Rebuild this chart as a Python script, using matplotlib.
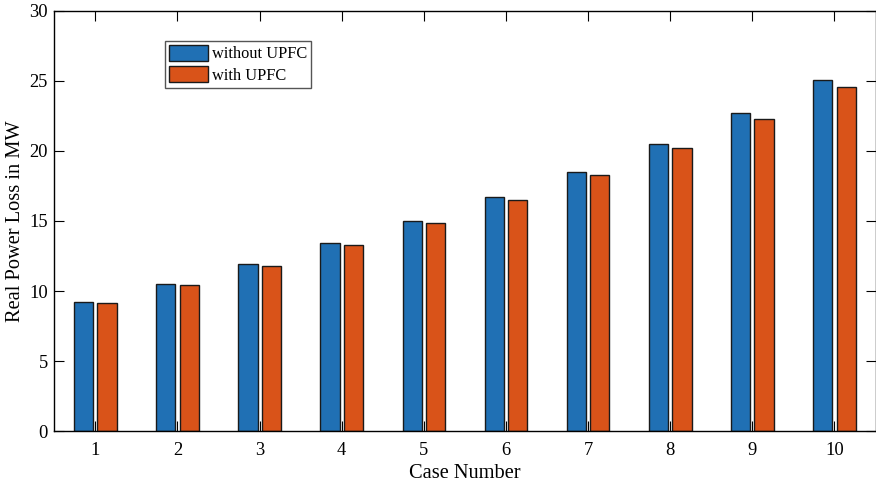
import matplotlib.pyplot as plt
import numpy as np

plt.rcParams['font.family'] = ['Liberation Serif', 'DejaVu Serif']

cases = [1, 2, 3, 4, 5, 6, 7, 8, 9, 10]
without_upfc = [9.24, 10.52, 11.90, 13.40, 14.97, 16.68, 18.50, 20.48, 22.66, 25.04]
with_upfc = [9.17, 10.45, 11.80, 13.28, 14.85, 16.49, 18.29, 20.17, 22.28, 24.52]

x = np.array(cases)
w = 0.235
off = 0.142

fig = plt.figure(figsize=(8.76, 4.87), dpi=100)
fig.set_facecolor('white')
ax = fig.add_axes([0.062, 0.1144, 0.9375, 0.864])

ax.bar(x - off, without_upfc, w, color='#2070b4', edgecolor='#1a1a1a', linewidth=1, label='without UPFC')
ax.bar(x + off, with_upfc, w, color='#d95319', edgecolor='#1a1a1a', linewidth=1, label='with UPFC')

ax.set_xlim(0.5, 10.5)
ax.set_ylim(0, 30)
ax.set_xticks(cases)
ax.set_yticks([0, 5, 10, 15, 20, 25, 30])
ax.tick_params(direction='in', length=7, width=0.8, labelsize=13.3, top=True, right=True)
ax.tick_params(axis='y', pad=4.5)
ax.tick_params(axis='x', pad=8)
for s in ax.spines.values():
    s.set_linewidth(1)

ax.set_xlabel('Case Number', fontsize=14.7, labelpad=3)
ax.set_ylabel('Real Power Loss in MW', fontsize=14.7, labelpad=3)

leg = ax.legend(loc='upper left', bbox_to_anchor=(0.135, 0.928), fontsize=11.8, fancybox=False,
                framealpha=1, edgecolor='#555555', borderpad=0.25, handlelength=2.35,
                handleheight=1.1, handletextpad=0.25, labelspacing=0.25, borderaxespad=0)
leg.get_frame().set_linewidth(1)

plt.savefig('out.png', dpi=100)
